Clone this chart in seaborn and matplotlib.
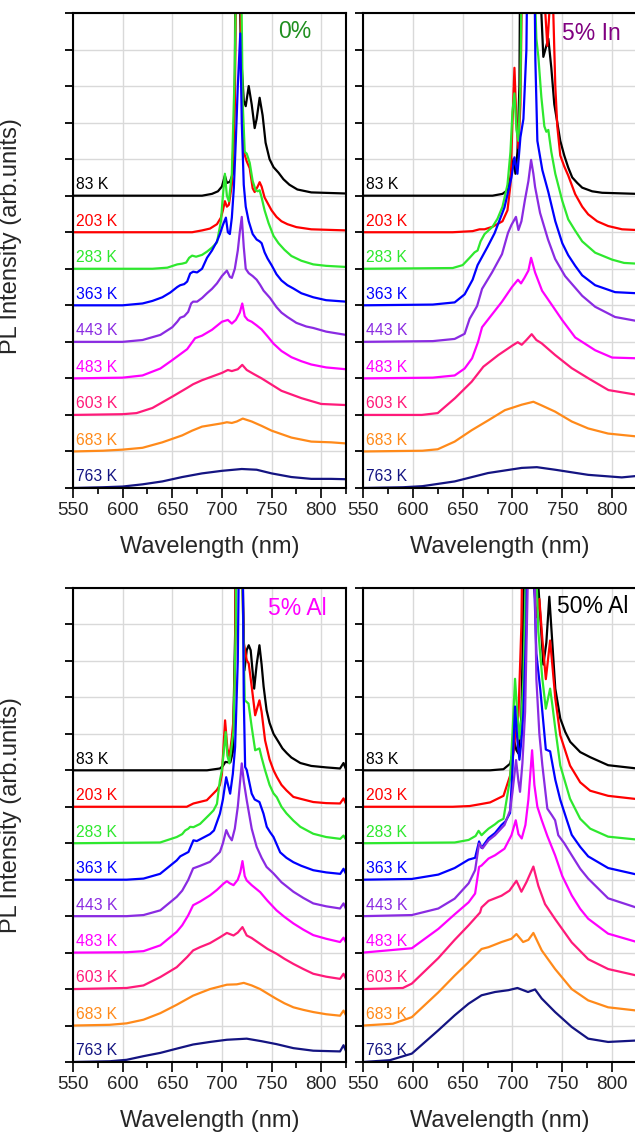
import numpy as np
import matplotlib
matplotlib.use("Agg")
import matplotlib.pyplot as plt
import seaborn as sns

sns.set_style("white")
plt.rcParams['font.family'] = ['Liberation Sans', 'DejaVu Sans']

TEMPS = ["83 K", "203 K", "283 K", "363 K", "443 K", "483 K", "603 K", "683 K", "763 K"]
OFFSETS = [8, 7, 6, 5, 4, 3, 2, 1, 0]
COLORS = ["#000000", "#ff0000", "#2ee82e", "#0000ff", "#8a2be2", "#ff00ff",
          "#ff1a7a", "#ff8a1a", "#141482"]
PANEL_TITLES = ["0%", "5% In", "5% Al", "50% Al"]
TITLE_COLORS = ["#1f8f1f", "#800080", "#ff00ff", "#000000"]
TITLE_POS = [(756.7, 12.48), (749.8, 12.45), (746.6, 12.45), (744.8, 12.48)]
XTICKS = [550, 600, 650, 700, 750, 800]

# ---------------- 0% ----------------
p0_83_wl = [550, 680, 690, 696, 700, 703, 705, 708, 711, 713, 715, 717, 719, 722, 724, 727, 730, 733, 735, 738, 741, 744, 748, 752, 757, 762, 768, 776, 790, 825]
p0_83_pl = [0, 0, 0.05, 0.12, 0.25, 0.55, 0.35, 0.38, 0.6, 3.0, 15, 8.0, 4.0, 2.6, 2.45, 3.0, 2.5, 1.85, 2.1, 2.68, 2.2, 1.45, 1.0, 0.78, 0.63, 0.45, 0.3, 0.17, 0.09, 0.06]
p0_203_wl = [550, 670, 680, 688, 695, 699, 701, 703, 705, 707, 710, 713, 715, 716.5, 718, 720, 722, 725, 728, 731, 733, 736, 738, 740, 743, 746, 750, 755, 760, 766, 775, 790, 825]
p0_203_pl = [0, 0, 0.05, 0.1, 0.22, 0.4, 0.6, 0.85, 0.7, 0.75, 1.3, 3.5, 9, 15, 8, 4.0, 2.2, 1.94, 1.75, 1.2, 1.1, 1.25, 1.37, 1.25, 0.95, 0.8, 0.6, 0.42, 0.3, 0.22, 0.14, 0.08, 0.05]
p0_283_wl = [550, 630, 645, 655, 660, 664, 667, 670, 674, 680, 685, 690, 695, 699, 701, 703, 705, 707, 710, 713, 715, 717, 719, 721, 723, 725, 728, 731, 734, 736, 738, 740, 743, 747, 752, 757, 763, 770, 780, 792, 805, 825]
p0_283_pl = [0, 0, 0.03, 0.12, 0.14, 0.17, 0.3, 0.36, 0.33, 0.38, 0.47, 0.58, 0.72, 1.3, 2.0, 2.6, 2.0, 1.85, 2.6, 5.5, 10, 15, 9, 4.5, 3.2, 3.15, 2.9, 2.4, 2.15, 2.12, 2.15, 1.95, 1.6, 1.25, 0.9, 0.7, 0.52, 0.35, 0.22, 0.12, 0.08, 0.05]
p0_363_wl = [550, 600, 620, 630, 640, 648, 655, 658, 662, 665, 668, 671, 675, 680, 685, 690, 695, 698, 701, 704, 706, 708, 710, 712, 714, 716, 718.5, 720, 722, 724, 727, 731, 735, 738, 740, 743, 746, 750, 755, 760, 766, 772, 780, 792, 805, 825]
p0_363_pl = [0, 0, 0.05, 0.12, 0.22, 0.35, 0.5, 0.55, 0.58, 0.65, 0.87, 0.92, 0.9, 1.0, 1.3, 1.5, 1.75, 1.95, 2.2, 2.4, 2.0, 1.95, 2.4, 3.2, 4.5, 6.0, 7.44, 5.0, 3.3, 2.7, 2.3, 1.95, 1.8, 1.75, 1.7, 1.45, 1.28, 1.1, 0.85, 0.68, 0.55, 0.46, 0.33, 0.22, 0.14, 0.1]
p0_443_wl = [550, 600, 620, 638, 650, 655, 658, 662, 666, 669, 671, 675, 680, 685, 690, 695, 700, 705, 708, 710, 713, 716, 718, 720, 722, 724, 727, 731, 735, 738.5, 742, 748.5, 755, 760, 766, 775, 785, 792, 805, 825]
p0_443_pl = [0, 0, 0.05, 0.19, 0.4, 0.55, 0.66, 0.7, 0.82, 1.05, 1.1, 1.1, 1.2, 1.33, 1.45, 1.6, 1.8, 1.95, 1.78, 1.75, 2.0, 2.5, 3.0, 3.42, 2.6, 2.0, 1.88, 1.8, 1.7, 1.56, 1.4, 1.2, 0.95, 0.8, 0.68, 0.52, 0.42, 0.38, 0.28, 0.19]
p0_483_wl = [550, 600, 620, 638, 650, 660, 665, 669, 673, 680, 690, 700, 706, 710, 714, 718, 720.5, 723, 726, 730, 735, 740, 746, 752, 760, 770, 780, 790, 805, 825]
p0_483_pl = [0, 0.02, 0.08, 0.27, 0.5, 0.7, 0.8, 0.95, 1.1, 1.17, 1.33, 1.55, 1.6, 1.5, 1.6, 1.8, 2.05, 1.7, 1.6, 1.55, 1.45, 1.34, 1.15, 0.95, 0.75, 0.58, 0.47, 0.38, 0.3, 0.25]
p0_603_wl = [550, 600, 614, 630, 650, 665, 671, 680, 690, 700, 706, 710, 716, 720.5, 725, 732, 740, 750, 760, 780, 800, 825]
p0_603_pl = [0, 0.02, 0.05, 0.19, 0.5, 0.74, 0.84, 0.95, 1.05, 1.15, 1.23, 1.2, 1.25, 1.37, 1.23, 1.12, 1.0, 0.83, 0.66, 0.46, 0.3, 0.27]
p0_683_wl = [550, 580, 600, 620, 640, 660, 670, 680, 700, 705, 710, 715, 721, 730, 740, 750, 770, 790, 810, 825]
p0_683_pl = [0, 0.02, 0.05, 0.1, 0.25, 0.44, 0.57, 0.68, 0.77, 0.8, 0.78, 0.82, 0.9, 0.82, 0.7, 0.57, 0.38, 0.27, 0.25, 0.22]
p0_763_wl = [550, 580, 600, 620, 640, 660, 680, 700, 720, 735, 750, 770, 790, 810, 825]
p0_763_pl = [0, 0.02, 0.04, 0.1, 0.18, 0.3, 0.4, 0.47, 0.52, 0.5, 0.4, 0.3, 0.25, 0.25, 0.24]

# ---------------- 5% In ----------------
pin_83_wl = [550, 680, 690, 695, 698, 701, 703, 705, 707, 709, 715, 722, 726, 729, 731, 733, 736, 739, 742, 745, 748, 752, 756, 760, 765, 770, 780, 790, 825]
pin_83_pl = [0, 0, 0.05, 0.15, 0.5, 1.0, 0.6, 1.2, 3, 13, 20, 20, 12, 5, 3.8, 4.0, 4.3, 3.5, 2.5, 2.0, 1.5, 1.1, 0.77, 0.5, 0.35, 0.22, 0.12, 0.08, 0.05]
pin_203_wl = [550, 640, 660, 667, 672, 680, 690, 695, 698, 700, 702, 704, 706, 708, 711, 715, 722, 726, 728, 730, 731, 733, 735, 737, 739, 741, 743, 745, 748, 752, 756, 763, 770, 776, 785, 796, 810, 825]
pin_203_pl = [0, 0, 0.03, 0.08, 0.08, 0.15, 0.3, 0.6, 1.3, 3.0, 4.5, 3.0, 2.3, 3.5, 10, 20, 12, 8, 6.5, 8, 8, 6, 5.1, 6, 8, 6, 4, 2.9, 2.1, 1.8, 1.55, 1.04, 0.7, 0.49, 0.3, 0.17, 0.08, 0.06]
pin_283_wl = [550, 640, 650, 657, 662, 665, 668, 672, 676, 680, 685, 690, 695, 698, 700, 702, 704, 706, 708, 710, 716, 722, 724, 726, 729, 732, 734, 736, 739, 743, 750, 756, 763, 770, 783, 800, 812, 825]
pin_283_pl = [0, 0.02, 0.1, 0.3, 0.45, 0.5, 0.75, 0.95, 1.05, 1.15, 1.37, 1.7, 2.3, 3.2, 4.3, 4.8, 3.8, 3.5, 5, 10, 15, 8, 6.3, 5.8, 4.7, 3.9, 3.75, 3.8, 3.2, 2.6, 1.86, 1.35, 1.04, 0.75, 0.44, 0.25, 0.16, 0.14]
pin_363_wl = [550, 620, 642, 652, 660, 665, 670, 675, 682, 692, 699, 702, 705, 708, 711, 714, 716, 721, 723, 725, 730, 736, 743, 750, 756, 763, 770, 783, 803, 825]
pin_363_pl = [0, 0.02, 0.08, 0.3, 0.7, 1.1, 1.35, 1.6, 1.97, 2.68, 3.5, 4.05, 3.6, 4.6, 5.1, 7, 12, 12, 6.7, 4.5, 3.7, 3.1, 2.3, 1.7, 1.37, 1.08, 0.82, 0.55, 0.36, 0.33]
pin_443_wl = [550, 620, 642, 652, 657, 664.5, 669.5, 679.5, 689.5, 695.5, 699, 703.5, 706, 709, 712.5, 716, 718.7, 721, 722.7, 727.7, 735.7, 742.8, 752.8, 770, 783, 803, 825]
pin_443_pl = [0, 0.02, 0.08, 0.22, 0.63, 0.98, 1.45, 1.9, 2.4, 2.98, 3.2, 3.42, 3.06, 3.3, 3.88, 4.4, 4.98, 4.6, 4.24, 3.53, 2.8, 2.27, 1.8, 1.26, 0.96, 0.68, 0.57]
pin_483_wl = [550, 620, 642, 652, 659.5, 665.5, 669.5, 679.5, 689.5, 699.5, 705.5, 708.6, 712, 716, 718.7, 722.7, 729.7, 739.8, 749.8, 763, 783, 800, 825]
pin_483_pl = [0, 0.02, 0.08, 0.27, 0.55, 1.0, 1.4, 1.75, 2.1, 2.5, 2.7, 2.6, 2.75, 2.95, 3.3, 2.9, 2.4, 2.0, 1.6, 1.12, 0.77, 0.57, 0.55]
pin_603_wl = [550, 609, 625, 642.4, 659.1, 670.8, 685.9, 700, 705.3, 709.3, 714, 719.3, 724, 729.3, 742.8, 759.5, 776.3, 796.3, 825]
pin_603_pl = [0, 0.0, 0.05, 0.46, 0.91, 1.32, 1.64, 1.9, 1.99, 1.92, 2.05, 2.21, 2.05, 1.96, 1.64, 1.28, 1.0, 0.68, 0.55]
pin_683_wl = [550, 609.6, 625, 642, 659, 675.6, 692.4, 709.3, 721, 729.3, 742.8, 759.5, 776, 796, 825]
pin_683_pl = [0, 0.02, 0.06, 0.27, 0.58, 0.85, 1.13, 1.28, 1.36, 1.26, 1.09, 0.82, 0.63, 0.49, 0.41]
pin_763_wl = [550, 590, 609.6, 642, 675.6, 709.3, 724.5, 742.8, 776, 809.7, 825]
pin_763_pl = [0, 0.02, 0.05, 0.18, 0.41, 0.55, 0.57, 0.5, 0.36, 0.29, 0.33]

# ---------------- 5% Al ----------------
pal_83_wl = [550, 685, 698, 701, 703.5, 706, 708.5, 711, 713.5, 716, 719, 722.7, 725, 727, 729, 732.5, 735, 737.8, 740, 742, 745, 748, 752, 757, 761, 765.4, 770, 779, 790, 805, 819, 822.5, 825]
pal_83_pl = [0, 0, 0.05, 0.12, 0.23, 0.22, 0.22, 0.5, 4, 15, 8, 2.74, 3.3, 3.43, 3.29, 2.24, 2.9, 3.43, 2.9, 2.3, 1.65, 1.3, 1.0, 0.78, 0.6, 0.47, 0.35, 0.2, 0.12, 0.08, 0.05, 0.2, 0.03]
pal_203_wl = [550, 664.6, 671.3, 684.8, 694.9, 698, 700, 703.2, 705.5, 707.6, 710, 711.7, 713.3, 716, 719, 722, 725, 727, 730, 733.5, 737.8, 740, 743.5, 748, 752, 755.3, 760, 765, 772, 779, 792, 805, 819, 822.5, 825]
pal_203_pl = [0, 0, 0.09, 0.18, 0.46, 0.6, 0.9, 2.37, 1.6, 1.37, 1.9, 2.4, 4, 15, 8, 4.5, 4.02, 3.93, 3.3, 2.51, 2.92, 2.6, 1.82, 1.3, 1.0, 0.82, 0.6, 0.45, 0.27, 0.22, 0.13, 0.1, 0.09, 0.23, 0.08]
pal_283_wl = [550, 637.7, 654.5, 660, 663, 666.2, 668, 671.3, 678, 688, 691.5, 695, 698, 700, 703.8, 705.5, 707.6, 710, 711.7, 714, 717, 720, 723, 726.8, 730, 733.5, 737.8, 740, 743.5, 748, 751.9, 755.3, 760, 765, 772, 779, 792, 805, 819.2, 822.5, 825]
pal_283_pl = [0, 0.02, 0.17, 0.25, 0.35, 0.4, 0.45, 0.44, 0.53, 0.8, 0.9, 1.08, 1.73, 2.0, 3.05, 2.4, 2.19, 2.7, 3.1, 6, 15, 8, 3.92, 3.83, 3.19, 2.55, 2.6, 2.35, 2.0, 1.6, 1.37, 1.26, 1.0, 0.82, 0.62, 0.45, 0.26, 0.17, 0.12, 0.21, 0.1]
pal_363_wl = [550, 604, 621, 637.7, 654.5, 658, 666.3, 671.3, 674.7, 688, 692, 698, 701, 704.3, 708.3, 711, 713.3, 716, 719.5, 722, 723.4, 725, 730, 733, 737.8, 741.9, 745.2, 748.6, 752, 758.7, 765, 772, 780, 792, 805, 819.2, 822.5, 825]
pal_363_pl = [0, 0, 0.03, 0.16, 0.53, 0.64, 0.76, 1.08, 1.06, 1.25, 1.35, 1.81, 2.2, 2.81, 2.36, 2.9, 3.64, 6, 15, 5, 3.09, 3.01, 2.36, 2.2, 2.13, 1.81, 1.45, 1.3, 1.17, 0.75, 0.6, 0.48, 0.38, 0.26, 0.2, 0.16, 0.3, 0.16]
pal_443_wl = [550, 604, 621, 638, 654.5, 660, 666, 671, 678, 688, 698, 701, 704.4, 707, 710, 713, 716, 720, 722, 725, 730, 735, 740, 745, 752, 760, 772, 782, 792, 805, 819, 822.5, 825]
pal_443_pl = [0, 0, 0.03, 0.16, 0.53, 0.7, 0.99, 1.31, 1.38, 1.49, 1.76, 2.0, 2.36, 2.2, 2.08, 2.4, 3.0, 4.19, 3.7, 3.18, 2.4, 1.9, 1.6, 1.35, 1.17, 0.93, 0.67, 0.5, 0.35, 0.27, 0.21, 0.35, 0.2]
pal_483_wl = [550, 604, 621, 638, 654.5, 660, 666, 671, 678, 688, 695, 701.6, 705, 708, 711.7, 716, 718.5, 720.7, 723, 725, 730, 738.5, 746, 755, 763, 772, 782, 792, 805, 819, 822.5, 825]
pal_483_pl = [0, 0.01, 0.04, 0.2, 0.57, 0.75, 1.02, 1.3, 1.4, 1.57, 1.72, 1.89, 1.96, 1.9, 1.85, 2.0, 2.2, 2.51, 2.1, 1.98, 1.85, 1.66, 1.42, 1.16, 0.98, 0.8, 0.63, 0.48, 0.38, 0.29, 0.41, 0.28]
pal_603_wl = [550, 604, 621, 638, 654.5, 665, 671, 678, 688, 698, 705, 711.7, 716, 720.7, 725, 730, 738.5, 746, 755, 763, 772, 782, 792, 805, 819, 822.5, 825]
pal_603_pl = [0, 0.03, 0.1, 0.33, 0.6, 0.88, 1.06, 1.15, 1.26, 1.42, 1.54, 1.47, 1.55, 1.7, 1.47, 1.4, 1.24, 1.1, 0.97, 0.83, 0.69, 0.55, 0.42, 0.34, 0.28, 0.42, 0.28]
pal_683_wl = [550, 587, 604, 621, 638, 654.5, 671, 688, 705, 715, 722, 730, 738.5, 747, 755, 763, 772, 782, 792, 805, 819, 822.5, 825]
pal_683_pl = [0, 0.02, 0.06, 0.16, 0.34, 0.57, 0.82, 1.0, 1.12, 1.13, 1.17, 1.1, 1.0, 0.86, 0.73, 0.61, 0.5, 0.43, 0.37, 0.31, 0.27, 0.41, 0.28]
pal_763_wl = [550, 587, 604, 621, 638, 655, 671, 688, 705, 725, 740, 755, 772, 792, 805, 819, 822.5, 825]
pal_763_pl = [0, 0.02, 0.06, 0.16, 0.25, 0.37, 0.48, 0.55, 0.61, 0.64, 0.57, 0.49, 0.38, 0.31, 0.3, 0.29, 0.46, 0.3]

# ---------------- 50% Al ----------------
p50_83_wl = [550, 677.6, 691, 697.6, 700, 702, 704, 706, 709, 712, 716, 720, 722, 725, 728, 731, 734, 737, 740, 743, 748, 753, 758, 768, 778, 796, 825]
p50_83_pl = [0, 0, 0.03, 0.18, 0.45, 0.78, 0.55, 0.46, 1.5, 6, 15, 15, 8, 5.5, 4.2, 2.9, 3.5, 4.76, 3.5, 2.24, 1.42, 1.05, 0.78, 0.5, 0.36, 0.14, 0.05]
p50_203_wl = [550, 640, 657, 667.5, 677.6, 691, 697.6, 701, 703, 706, 709, 712, 716, 720, 722, 724, 727, 730, 733.5, 737.8, 740, 743, 748, 757.8, 768, 778, 796, 825]
p50_203_pl = [0, 0, 0.02, 0.07, 0.12, 0.3, 0.85, 1.49, 2.0, 2.5, 5, 12, 15, 15, 6, 5.2, 5.7, 4.6, 3.5, 4.56, 3.9, 2.97, 1.96, 1.13, 0.67, 0.44, 0.3, 0.21]
p50_283_wl = [550, 642, 656, 663, 666, 669, 672, 676, 682.5, 686, 691, 697.6, 700, 702.6, 705, 707, 709, 711, 714, 718, 722, 726, 730, 733.5, 737.8, 740, 743, 748, 757.8, 768, 778, 796, 825]
p50_283_pl = [0, 0.02, 0.09, 0.2, 0.34, 0.22, 0.3, 0.4, 0.52, 0.6, 0.67, 1.77, 3.0, 4.51, 3.5, 2.87, 3.4, 4.51, 8, 15, 9, 5.8, 4.51, 3.69, 4.24, 3.8, 3.14, 2.13, 1.22, 0.67, 0.4, 0.18, 0.1]
p50_363_wl = [550, 599, 625.6, 642, 656, 662.5, 666.5, 669, 676, 682.5, 689, 693, 697.6, 700, 702.6, 705, 707, 709, 711, 714, 717, 720, 722, 724, 728, 733.5, 737.8, 743, 748, 754.4, 759.5, 768, 776, 796, 825]
p50_363_pl = [0, 0.02, 0.14, 0.32, 0.55, 0.6, 1.05, 0.87, 1.14, 1.28, 1.5, 1.6, 1.83, 3.0, 4.75, 3.8, 3.29, 3.8, 4.57, 7, 15, 12, 8, 6.2, 5.2, 3.57, 3.52, 2.74, 2.19, 1.65, 1.23, 0.9, 0.64, 0.32, 0.14]
p50_443_wl = [550, 599, 625.6, 642, 656, 662.5, 666.5, 670, 676, 682.5, 692, 697.6, 700, 703.6, 706, 707.6, 710, 712.7, 716, 719, 722, 724, 727, 730, 735, 739.5, 742.8, 746, 752, 759.5, 768, 776, 796, 825]
p50_443_pl = [0, 0.03, 0.21, 0.48, 0.9, 1.26, 1.99, 1.86, 2.08, 2.22, 2.5, 2.9, 3.4, 4.28, 3.7, 3.41, 4.2, 5.6, 10, 15, 10, 6.5, 5, 4.14, 2.95, 2.77, 2.63, 2.22, 2.0, 1.67, 1.3, 1.03, 0.49, 0.23]
p50_483_wl = [550, 599, 625.6, 642, 656, 662.5, 666.5, 669, 676, 682.5, 692, 699, 703.3, 706, 709.3, 713, 716, 719.7, 722, 725, 729.4, 735, 742.8, 750, 759.5, 768, 776, 796, 825]
p50_483_pl = [0, 0.12, 0.65, 1.05, 1.38, 1.62, 2.35, 2.39, 2.58, 2.67, 2.85, 3.22, 3.63, 3.25, 3.13, 3.5, 4.2, 5.55, 4.6, 4.0, 3.63, 3.2, 2.67, 2.1, 1.57, 1.2, 0.93, 0.52, 0.29]
p50_603_wl = [550, 590, 599, 625.6, 642, 656, 667.5, 669, 676, 689, 697, 704, 709, 714, 721, 726, 732.7, 742.8, 759.5, 776, 796, 825]
p50_603_pl = [0, 0.03, 0.15, 0.85, 1.35, 1.75, 2.1, 2.24, 2.42, 2.56, 2.7, 2.97, 2.67, 2.93, 3.36, 2.83, 2.33, 1.92, 1.28, 0.82, 0.55, 0.37]
p50_683_wl = [550, 580, 599, 625.6, 642, 656, 669, 676, 689, 699, 704, 710.7, 716, 721, 729.4, 742.8, 759.5, 776, 796, 825]
p50_683_pl = [0, 0.05, 0.23, 0.91, 1.37, 1.74, 2.1, 2.15, 2.29, 2.38, 2.51, 2.29, 2.35, 2.54, 2.06, 1.55, 1.0, 0.69, 0.5, 0.41]
p50_763_wl = [550, 577, 599, 625.6, 642, 656, 669, 682.5, 696, 705, 715.6, 722.7, 729.4, 742.8, 759.5, 776, 796, 825]
p50_763_pl = [0, 0.05, 0.23, 0.87, 1.28, 1.6, 1.83, 1.92, 1.97, 2.03, 1.92, 1.99, 1.74, 1.37, 0.96, 0.64, 0.55, 0.59]

PANELS = [
    [(p0_83_wl, p0_83_pl), (p0_203_wl, p0_203_pl), (p0_283_wl, p0_283_pl), (p0_363_wl, p0_363_pl),
     (p0_443_wl, p0_443_pl), (p0_483_wl, p0_483_pl), (p0_603_wl, p0_603_pl), (p0_683_wl, p0_683_pl),
     (p0_763_wl, p0_763_pl)],
    [(pin_83_wl, pin_83_pl), (pin_203_wl, pin_203_pl), (pin_283_wl, pin_283_pl), (pin_363_wl, pin_363_pl),
     (pin_443_wl, pin_443_pl), (pin_483_wl, pin_483_pl), (pin_603_wl, pin_603_pl), (pin_683_wl, pin_683_pl),
     (pin_763_wl, pin_763_pl)],
    [(pal_83_wl, pal_83_pl), (pal_203_wl, pal_203_pl), (pal_283_wl, pal_283_pl), (pal_363_wl, pal_363_pl),
     (pal_443_wl, pal_443_pl), (pal_483_wl, pal_483_pl), (pal_603_wl, pal_603_pl), (pal_683_wl, pal_683_pl),
     (pal_763_wl, pal_763_pl)],
    [(p50_83_wl, p50_83_pl), (p50_203_wl, p50_203_pl), (p50_283_wl, p50_283_pl), (p50_363_wl, p50_363_pl),
     (p50_443_wl, p50_443_pl), (p50_483_wl, p50_483_pl), (p50_603_wl, p50_603_pl), (p50_683_wl, p50_683_pl),
     (p50_763_wl, p50_763_pl)],
]

W, H = 635, 1132
fig = plt.figure(figsize=(W / 100, H / 100), dpi=100)
rects = [
    [73 / W, (H - 488) / H, 273 / W, 475 / H],
    [363 / W, (H - 488) / H, 274 / W, 475 / H],
    [73 / W, (H - 1062) / H, 273 / W, 474 / H],
    [363 / W, (H - 1062) / H, 274 / W, 474 / H],
]

for i, rect in enumerate(rects):
    ax = fig.add_axes(rect)
    ax.set_axisbelow(True)
    for (wl, pl), off, col in zip(PANELS[i], OFFSETS, COLORS):
        sns.lineplot(x=wl, y=np.asarray(pl) + off, ax=ax, color=col, lw=1.6,
                     sort=False, estimator=None)
    for t, off, col in zip(TEMPS, OFFSETS, COLORS):
        ax.text(553, off + 0.1, t, color=col, fontsize=11.3, va='bottom', ha='left')
    ax.text(TITLE_POS[i][0], TITLE_POS[i][1], PANEL_TITLES[i], color=TITLE_COLORS[i],
            fontsize=16.5, va='center', ha='left')
    ax.set_xlim(550, 825)
    ax.set_ylim(0, 13)
    ax.set_xticks(XTICKS)
    ax.set_xticks([575, 625, 675, 725, 775, 825], minor=True)
    ax.set_yticks(range(0, 14))
    ax.set_yticklabels([])
    ax.grid(True, which='major', color='#d9d9d9', lw=1.0)
    ax.tick_params(axis='x', which='major', direction='out', length=7, width=1.2,
                   labelsize=13.5, pad=3, color='black', bottom=True)
    ax.tick_params(axis='x', which='minor', direction='out', length=4, width=1.2,
                   color='black', bottom=True)
    ax.tick_params(axis='y', which='major', direction='out', length=6, width=1.3,
                   left=True, right=False, color='black')
    for s in ax.spines.values():
        s.set_color('black')
        s.set_linewidth(1.5)
        s.set_visible(True)
    ax.set_xlabel("Wavelength (nm)", fontsize=17, labelpad=12)
    if i in (0, 2):
        ax.set_ylabel("PL Intensity (arb.units)", fontsize=17)
        ax.yaxis.set_label_coords(-0.187, 0.53 if i == 0 else 0.52)
    else:
        ax.set_ylabel("")

fig.savefig("out.png", dpi=100)
